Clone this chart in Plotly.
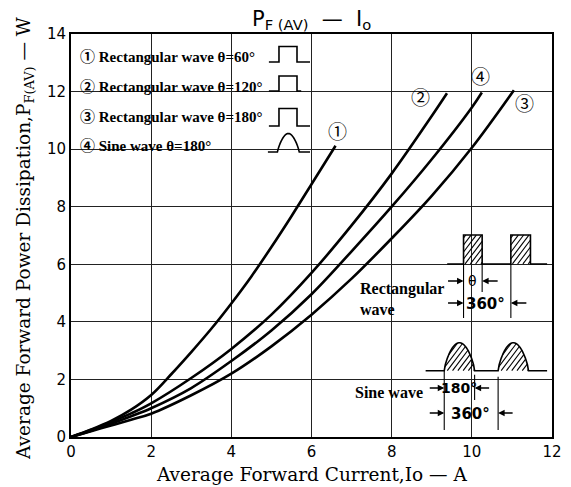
import numpy as np
import plotly.graph_objects as go

# ---------------- data ----------------
io_c1 = [0, 0.5, 1, 1.5, 2, 2.5, 3, 3.5, 4, 4.5, 5, 5.5, 6, 6.6]
pf_c1 = [0, 0.26, 0.56, 0.95, 1.46, 2.18, 2.95, 3.76, 4.64, 5.58, 6.6, 7.67, 8.78, 10.12]

io_c2 = [0, 0.5, 1, 1.5, 2, 3, 4, 5, 6, 7, 8, 9, 9.38]
pf_c2 = [0, 0.24, 0.52, 0.82, 1.17, 2.05, 3.06, 4.25, 5.7, 7.35, 9.15, 11.15, 11.94]

io_c3 = [0, 0.5, 1, 1.5, 2, 3, 4, 5, 6, 7, 8, 9, 10, 11.05]
pf_c3 = [0, 0.2, 0.4, 0.6, 0.81, 1.45, 2.2, 3.15, 4.25, 5.5, 6.9, 8.38, 10.05, 12.05]

io_c4 = [0, 0.5, 1, 1.5, 2, 3, 4, 5, 6, 7, 8, 9, 10, 10.25]
pf_c4 = [0, 0.22, 0.46, 0.72, 1.0, 1.7, 2.64, 3.7, 4.96, 6.45, 8.0, 9.65, 11.45, 11.97]

curve_names = ["Rectangular wave θ=60°", "Rectangular wave θ=120°",
               "Rectangular wave θ=180°", "Sine wave θ=180°"]
curve_marks = ["①", "②", "③", "④"]
x_ticks = [0, 2, 4, 6, 8, 10, 12]
y_ticks = [0, 2, 4, 6, 8, 10, 12, 14]

# ---------------- layout geometry ----------------
W, H = 571, 487
L, R, T, B = 71, 562, 34, 437
XMAX, YMAX = 12, 14
SX = (R - L) / XMAX
SY = (B - T) / YMAX


def dx(px):
    return (px - L) / SX


def dy(py):
    return (B - py) / SY


def path(points, close=False):
    s = "M " + " L ".join(f"{dx(a):.4f},{dy(b):.4f}" for a, b in points)
    return s + (" Z" if close else "")


fig = go.Figure()
for xs, ys, nm in zip([io_c1, io_c2, io_c3, io_c4], [pf_c1, pf_c2, pf_c3, pf_c4], curve_names):
    fig.add_trace(go.Scatter(x=xs, y=ys, mode="lines", name=nm,
                             line=dict(color="black", width=2.6, shape="spline", smoothing=1.0),
                             showlegend=False, hoverinfo="skip"))

shapes = []
annos = []
LINE = dict(color="black", width=1.6)
THIN = dict(color="black", width=1.1)

# white areas that break the grid
for (x0, y0, x1, y1) in [(73, 36, 318, 158), (432, 228, 560, 435), (362, 278, 448, 320),
                         (356, 383, 428, 401), (318, 75, 340, 100)]:
    shapes.append(dict(type="rect", xref="x", yref="y", x0=dx(x0), x1=dx(x1), y0=dy(y1), y1=dy(y0),
                       fillcolor="white", line=dict(width=0), layer="below"))

# legend texts
leg_y = [57, 87, 117, 146]
for mk, nm, yy in zip(curve_marks, curve_names, leg_y):
    annos.append(dict(xref="x", yref="y", x=dx(78), y=dy(yy), xanchor="left", yanchor="middle",
                      text="<b>" + mk + " " + nm + "</b>", showarrow=False,
                      font=dict(family="Liberation Serif, Noto Sans CJK JP", size=15, color="black")))

# legend icons
def pulse(base, top, x0=273, xa=283.3, xb=301.7, x1=315):
    return [(x0, base), (xa, base), (xa, top), (xb, top), (xb, base), (x1, base)]


shapes.append(dict(type="path", xref="x", yref="y", path=path(pulse(62, 46.5)), line=LINE))
shapes.append(dict(type="path", xref="x", yref="y", path=path(pulse(91, 76, x1=306)), line=LINE))
shapes.append(dict(type="path", xref="x", yref="y", path=path(pulse(126, 108.5)), line=LINE))
hump = [(272, 152)] + [(281.7 + 22.3 * t, 152 - 18.5 * np.sin(np.pi * t) ** 0.8)
                       for t in np.linspace(0, 1, 25)] + [(315, 152)]
shapes.append(dict(type="path", xref="x", yref="y", path=path(hump), line=LINE))

# curve-end labels
for mk, (px, py) in zip(curve_marks, [(343, 132), (428, 98), (534, 104), (489, 77)]):
    annos.append(dict(xref="x", yref="y", x=dx(px), y=dy(py), text=mk, showarrow=False,
                      font=dict(family="DejaVu Serif, Noto Sans CJK JP", size=19, color="black")))

# ---------- rectangular wave inset ----------
base_r, top_r = 264, 235
p1, p2 = (471.7, 490.7), (520, 540)
rect_path = [(455, base_r), (p1[0], base_r), (p1[0], top_r), (p1[1], top_r), (p1[1], base_r),
             (p2[0], base_r), (p2[0], top_r), (p2[1], top_r), (p2[1], base_r), (557, base_r)]
shapes.append(dict(type="path", xref="x", yref="y", path=path(rect_path), line=LINE))


def hatch_rect(x0, x1, ytop, ybot, step=7, k=1.3):
    segs = []
    for c in np.arange(ytop + k * x0 + 3, ybot + k * x1, step):
        xs = np.linspace(x0, x1, 200)
        ys = c - k * xs
        m = (ys >= ytop) & (ys <= ybot)
        if m.sum() > 2:
            segs.append([(xs[m][0], ys[m][0]), (xs[m][-1], ys[m][-1])])
    return segs


for (a, b) in (p1, p2):
    for sg in hatch_rect(a, b, top_r, base_r):
        shapes.append(dict(type="path", xref="x", yref="y", path=path(sg), line=THIN))

for (xx, y0, y1) in [(p1[0], base_r, 318), (p1[1], base_r, 292), (p2[0], base_r, 318)]:
    shapes.append(dict(type="line", xref="x", yref="y", x0=dx(xx), x1=dx(xx), y0=dy(y0), y1=dy(y1), line=THIN))


def arrow(tx, ty, off):
    annos.append(dict(xref="x", yref="y", x=dx(tx), y=dy(ty), ax=off, ay=0, text="", showarrow=True,
                      arrowhead=2, arrowsize=1, arrowwidth=1.3, arrowcolor="black"))


arrow(p1[0], 281, -17)
arrow(p1[1], 281, 17)
arrow(p1[0], 303, -17)
arrow(p2[0], 303, 17)
annos.append(dict(xref="x", yref="y", x=dx(481), y=dy(281), text="θ", showarrow=False,
                  font=dict(family="DejaVu Sans", size=14, color="black")))
annos.append(dict(xref="x", yref="y", x=dx(494), y=dy(304), text="<b>360°</b>", showarrow=False,
                  font=dict(family="DejaVu Sans", size=15, color="black")))
annos.append(dict(xref="x", yref="y", x=dx(364), y=dy(299), xanchor="left", yanchor="middle", align="left",
                  text="<b>Rectangular<br>wave</b>", showarrow=False,
                  font=dict(family="Liberation Serif", size=16, color="black")))

# ---------- sine wave inset ----------
base_s, h_s = 370.7, 28
hA, hB = (452, 483), (507, 538)


def hump_top(x, a, b):
    return base_s - h_s * np.sin(np.pi * np.clip((x - a) / (b - a), 0, 1)) ** 0.7


pts = [(433, base_s)]
for (a, b) in (hA, hB):
    pts += [(a + (b - a) * t, base_s - h_s * np.sin(np.pi * t) ** 0.7) for t in np.linspace(0, 1, 30)]
pts += [(557, base_s)]
shapes.append(dict(type="path", xref="x", yref="y", path=path(pts), line=LINE))

for (a, b) in (hA, hB):
    k = 1.3
    for c in np.arange(base_s - h_s + k * a + 4, base_s + k * b, 7):
        xs = np.linspace(a, b, 300)
        ys = c - k * xs
        m = (ys >= hump_top(xs, a, b)) & (ys <= base_s)
        if m.sum() > 3:
            shapes.append(dict(type="path", xref="x", yref="y",
                               path=path([(xs[m][0], ys[m][0]), (xs[m][-1], ys[m][-1])]), line=THIN))

for (xx, y0, y1) in [(hA[0], base_s, 430), (hA[1], base_s + 4, 400), (hB[0], base_s + 6, 430)]:
    shapes.append(dict(type="line", xref="x", yref="y", x0=dx(xx), x1=dx(xx), y0=dy(y0), y1=dy(y1), line=THIN))

arrow(hA[0], 388, -16)
arrow(hA[1], 388, 16)
arrow(hA[0], 413, -16)
arrow(hB[0], 413, 16)
annos.append(dict(xref="x", yref="y", x=dx(467), y=dy(388), text="<b>180°</b>", showarrow=False,
                  font=dict(family="DejaVu Sans", size=14, color="black")))
annos.append(dict(xref="x", yref="y", x=dx(479), y=dy(414), text="<b>360°</b>", showarrow=False,
                  font=dict(family="DejaVu Sans", size=15, color="black")))
annos.append(dict(xref="x", yref="y", x=dx(359), y=dy(392), xanchor="left", yanchor="middle",
                  text="<b>Sine wave</b>", showarrow=False,
                  font=dict(family="Liberation Serif", size=16, color="black")))

# ---------- titles ----------
annos.append(dict(xref="paper", yref="paper", x=0.5, y=(B - 20) / (B - T), xanchor="center", yanchor="middle",
                  text="P<sub>F (AV)</sub>  —  I<sub>o</sub>", showarrow=False,
                  font=dict(family="DejaVu Sans", size=21, color="black")))
annos.append(dict(xref="paper", yref="paper", x=0.5, y=-(474 - B) / (B - T), xanchor="center", yanchor="middle",
                  text="Average Forward Current,Io — A", showarrow=False,
                  font=dict(family="DejaVu Serif", size=18.5, color="black")))
annos.append(dict(xref="paper", yref="paper", x=-(L - 24) / (R - L), y=(B - 238) / (B - T),
                  xanchor="center", yanchor="middle", textangle=-90,
                  text="Average Forward Power Dissipation,P<sub>F(AV)</sub> — W", showarrow=False,
                  font=dict(family="DejaVu Serif", size=18.5, color="black")))

fig.update_layout(
    width=W, height=H, margin=dict(l=L, r=W - R, t=T, b=H - B),
    paper_bgcolor="white", plot_bgcolor="white",
    shapes=shapes, annotations=annos,
    xaxis=dict(range=[0, XMAX], tickvals=x_ticks, ticktext=[str(v) for v in x_ticks],
               showgrid=True, gridcolor="#222", gridwidth=1, zeroline=False,
               showline=True, linecolor="black", linewidth=2, mirror=True, ticks="",
               tickfont=dict(family="DejaVu Sans", size=15, color="black"), fixedrange=True),
    yaxis=dict(range=[0, YMAX], tickvals=y_ticks, ticktext=[str(v) for v in y_ticks],
               showgrid=True, gridcolor="#222", gridwidth=1, zeroline=False,
               showline=True, linecolor="black", linewidth=2, mirror=True, ticks="",
               tickfont=dict(family="DejaVu Sans", size=15, color="black"), fixedrange=True),
)

fig.write_html("out.html", config={"displayModeBar": False},
               post_script="document.body.style.margin='0';document.body.style.overflow='hidden';")
